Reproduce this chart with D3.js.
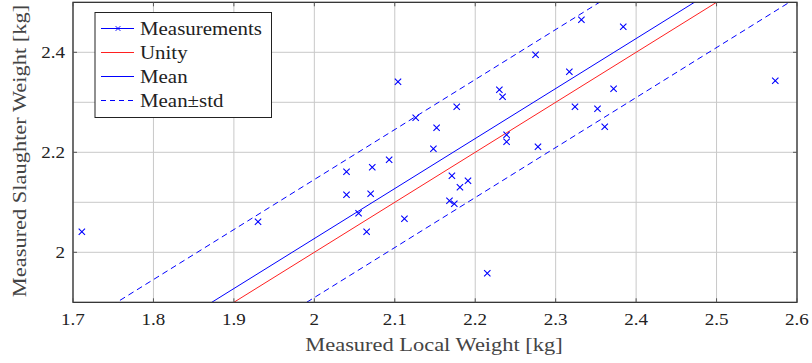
<!DOCTYPE html>
<html>
<head>
<meta charset="utf-8">
<script src="https://cdn.jsdelivr.net/npm/d3@7"></script>
<style>
  body { margin: 0; background: #fff; }
  text { font-family: "Liberation Serif", "Times New Roman", serif; }
</style>
</head>
<body>
<div id="chart"></div>
<script>
// measured values [kg]
var localWeight = [1.711, 1.930, 2.040, 2.040, 2.055, 2.065, 2.072, 2.070, 2.093, 2.104,
  2.112, 2.126, 2.148, 2.152, 2.171, 2.177, 2.181, 2.191, 2.168, 2.174,
  2.215, 2.230, 2.234, 2.239, 2.239, 2.275, 2.278, 2.317, 2.324, 2.332,
  2.352, 2.361, 2.372, 2.384, 2.573];
var slaughterWeight = [2.041, 2.061, 2.161, 2.115, 2.078, 2.041, 2.170, 2.117, 2.185, 2.341,
  2.067, 2.269, 2.207, 2.249, 2.153, 2.291, 2.130, 2.143, 2.103, 2.097,
  1.958, 2.325, 2.311, 2.235, 2.221, 2.395, 2.211, 2.361, 2.291, 2.465,
  2.287, 2.251, 2.327, 2.451, 2.343];
var meanOffset = 0.0275;
var stdOffset = 0.118;
var xTicks = [1.7, 1.8, 1.9, 2.0, 2.1, 2.2, 2.3, 2.4, 2.5, 2.6];
var yTicks = [2.0, 2.2, 2.4];
var yGrid = [2.0, 2.1, 2.2, 2.3, 2.4];
var legendLabels = ["Measurements", "Unity", "Mean", "Mean\u00b1std"];

var width = 812, height = 363;
var margin = {left: 73, right: 15, top: 2.3, bottom: 60.7};

var svg = d3.select("#chart")
  .append("svg")
    .attr("width", width)
    .attr("height", height);

var x = d3.scaleLinear().domain([1.7, 2.6]).range([margin.left, width - margin.right]);
var y = d3.scaleLinear().domain([1.9, 2.5]).range([height - margin.bottom, margin.top]);

// widen Times-like glyphs a bit toward Computer Modern proportions
function stretch(sel, k) {
  sel.each(function() {
    var len = this.getComputedTextLength();
    d3.select(this).attr("textLength", len * k).attr("lengthAdjust", "spacingAndGlyphs");
  });
}

svg.append("clipPath").attr("id", "plotclip")
  .append("rect")
    .attr("x", x(1.7)).attr("y", y(2.5))
    .attr("width", x(2.6) - x(1.7)).attr("height", y(1.9) - y(2.5));

// grid
svg.append("g").selectAll("line").data(xTicks).enter().append("line")
  .attr("x1", function(d) { return x(d); }).attr("x2", function(d) { return x(d); })
  .attr("y1", y(1.9)).attr("y2", y(2.5))
  .attr("stroke", "#c8c8c8").attr("stroke-width", 1);
svg.append("g").selectAll("line").data(yGrid).enter().append("line")
  .attr("x1", x(1.7)).attr("x2", x(2.6))
  .attr("y1", function(d) { return y(d); }).attr("y2", function(d) { return y(d); })
  .attr("stroke", "#c8c8c8").attr("stroke-width", 1);

// lines
var plot = svg.append("g").attr("clip-path", "url(#plotclip)");
var line = d3.line().x(function(d) { return x(d[0]); }).y(function(d) { return y(d[1]); });
var xs = [1.6, 2.7];
function offsetLine(o) { return xs.map(function(v) { return [v, v + o]; }); }

plot.append("path").attr("d", line(offsetLine(0)))
  .attr("fill", "none").attr("stroke", "#ff2020").attr("stroke-width", 1);
plot.append("path").attr("d", line(offsetLine(meanOffset)))
  .attr("fill", "none").attr("stroke", "#0000ff").attr("stroke-width", 1);
[meanOffset + stdOffset, meanOffset - stdOffset].forEach(function(o) {
  plot.append("path").attr("d", line(offsetLine(o)))
    .attr("fill", "none").attr("stroke", "#0000ff").attr("stroke-width", 1)
    .attr("stroke-dasharray", "6,4");
});

// markers
var cross = d3.symbol().type(d3.symbolX).size(28);
plot.selectAll(".pt").data(localWeight).enter().append("path")
  .attr("class", "pt")
  .attr("transform", function(d, i) { return "translate(" + x(d) + "," + y(slaughterWeight[i]) + ")"; })
  .attr("d", cross)
  .attr("fill", "none").attr("stroke", "#0000ff").attr("stroke-width", 1.1);

// frame
svg.append("rect")
  .attr("x", x(1.7)).attr("y", y(2.5))
  .attr("width", x(2.6) - x(1.7)).attr("height", y(1.9) - y(2.5))
  .attr("fill", "none").attr("stroke", "#222").attr("stroke-width", 1.2);

// inner ticks
var tk = svg.append("g").attr("stroke", "#555").attr("stroke-width", 1);
xTicks.forEach(function(d) {
  tk.append("line").attr("x1", x(d)).attr("x2", x(d)).attr("y1", y(1.9)).attr("y2", y(1.9) - 4);
  tk.append("line").attr("x1", x(d)).attr("x2", x(d)).attr("y1", y(2.5)).attr("y2", y(2.5) + 4);
});
yTicks.forEach(function(d) {
  tk.append("line").attr("y1", y(d)).attr("y2", y(d)).attr("x1", x(1.7)).attr("x2", x(1.7) + 4);
  tk.append("line").attr("y1", y(d)).attr("y2", y(d)).attr("x1", x(2.6)).attr("x2", x(2.6) - 4);
});

// tick labels
svg.append("g").selectAll("text").data(xTicks).enter().append("text")
  .attr("x", function(d) { return x(d); })
  .attr("y", y(1.9) + 23)
  .attr("text-anchor", "middle")
  .attr("font-size", 17)
  .attr("fill", "#222")
  .text(function(d) { return d3.format("~g")(d); })
  .call(stretch, 1.12);
svg.append("g").selectAll("text").data(yTicks).enter().append("text")
  .attr("x", x(1.7) - 8)
  .attr("y", function(d) { return y(d) + 6; })
  .attr("text-anchor", "end")
  .attr("font-size", 17)
  .attr("fill", "#222")
  .text(function(d) { return d3.format("~g")(d); })
  .call(stretch, 1.12);

// axis labels
svg.append("text")
  .attr("x", 434)
  .attr("y", 351)
  .attr("text-anchor", "middle")
  .attr("font-size", 19)
  .attr("fill", "#444")
  .text("Measured Local Weight [kg]")
  .call(stretch, 1.18);
svg.append("text")
  .attr("transform", "translate(26,151) rotate(-90)")
  .attr("text-anchor", "middle")
  .attr("font-size", 19)
  .attr("fill", "#444")
  .text("Measured Slaughter Weight [kg]")
  .call(stretch, 1.18);

// legend
var lg = svg.append("g");
lg.append("rect")
  .attr("x", 95).attr("y", 12.5).attr("width", 176.5).attr("height", 105)
  .attr("fill", "#fff").attr("stroke", "#222").attr("stroke-width", 1);
var legendStyles = [
  {stroke: "#0000ff", dash: null, marker: true},
  {stroke: "#ff2020", dash: null, marker: false},
  {stroke: "#0000ff", dash: null, marker: false},
  {stroke: "#0000ff", dash: "5,4", marker: false}
];
legendLabels.forEach(function(label, i) {
  var ly = 28.5 + i * 24;
  var st = legendStyles[i];
  lg.append("line")
    .attr("x1", 101).attr("x2", 134).attr("y1", ly).attr("y2", ly)
    .attr("stroke", st.stroke).attr("stroke-width", 1)
    .attr("stroke-dasharray", st.dash);
  if (st.marker) {
    lg.append("path")
      .attr("transform", "translate(118," + ly + ")")
      .attr("d", d3.symbol().type(d3.symbolX).size(16))
      .attr("fill", "none").attr("stroke", st.stroke).attr("stroke-width", 1);
  }
  lg.append("text")
    .attr("x", 140).attr("y", ly + 6)
    .attr("font-size", 18.5)
    .attr("fill", "#222")
    .text(label)
    .call(stretch, 1.13);
});
</script>
</body>
</html>
